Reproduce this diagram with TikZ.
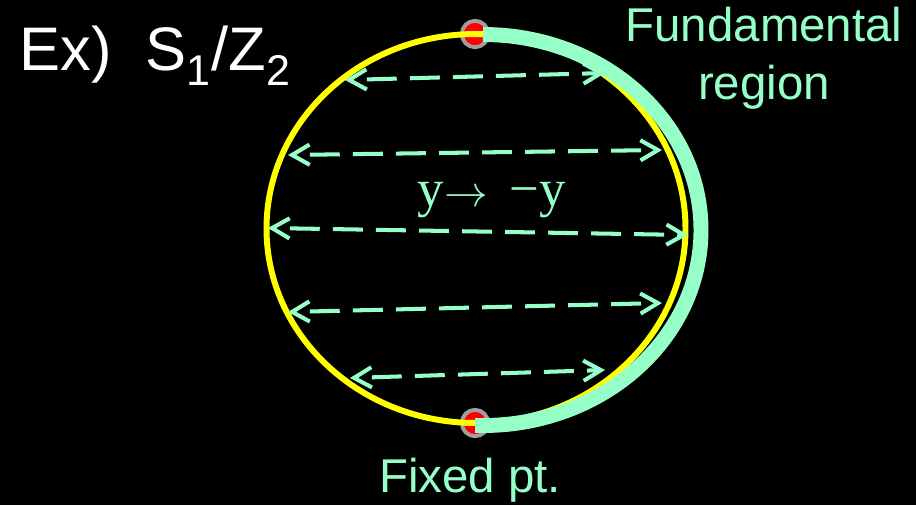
\documentclass[tikz,border=0pt]{standalone}
\usepackage{fontspec}
\setmainfont{Liberation Sans}
\newfontfamily\serifface{Liberation Serif}
\usepackage{tikz}
\usetikzlibrary{arrows.meta, positioning}
\definecolor{myaqua}{HTML}{96FFC8}
\definecolor{myyellow}{HTML}{FFFF00}
\tikzset{
	circlepath/.style={
			draw=myyellow,
			line width=3.4pt
		},
	regionpath/.style={
			draw=myaqua,
			line width=8.5pt
		},
	fixednode/.style={
			circle,
			draw=gray!75,
			fill=red,
			line width=2.2pt,
			minimum size=15pt,
			inner sep=0pt
		},
	mapline/.style={
			draw=myaqua,
			line width=2.3pt,
			dash pattern=on 17pt off 7.5pt,
			dash phase=-9pt,
			{Straight Barb[length=10pt,width=11.5pt,line width=2.3pt]}-{Straight Barb[length=10pt,width=11.5pt,line width=2.3pt]}
		},
	labelnode/.style={
			text=myaqua,
			font=\fontsize{27}{30}\selectfont,
			inner sep=0pt
		}
}

\begin{document}
\begin{tikzpicture}[x=0.02cm, y=-0.02cm]
\useasboundingbox[fill=black] (0,0) rectangle (916,505);

\node[text=white, font=\fontsize{35}{38}\selectfont, anchor=west, inner sep=0pt] (title) at (19,56) {Ex)\ \ S\textsubscript{1}/Z\textsubscript{2}};

% fixed points, circle and fundamental region
\node[fixednode] (top) at (475,34) {};
\node[fixednode] (bot) at (475,423) {};
\draw[circlepath] (476,228.5) ellipse [x radius=209.5, y radius=194.5];
\draw[regionpath] (483,34.5) arc [start angle=-90, end angle=90, x radius=218, y radius=195.5] -- (475,425.5);

% the map
\coordinate (l1) at (345,80);  \coordinate (r1) at (605,73);
\coordinate (l2) at (288,155); \coordinate (r2) at (662,150);
\coordinate (l3) at (268,228); \coordinate (r3) at (688,235);
\coordinate (l4) at (288,312); \coordinate (r4) at (662,303);
\coordinate (l5) at (350,378); \coordinate (r5) at (605,370);
\foreach \i in {1,...,5}
	\draw[mapline] (l\i) -- (r\i);

\node[labelnode, font=\serifface\fontsize{30}{32}\selectfont] (map) at (492,200) {y{\fontsize{28}{30}\selectfont$\rightarrow$}\ \,−y};
\node[labelnode, align=center, font=\fontsize{27}{33}\selectfont] (fund) at (764,58) {Fundamental\\region};
\node[labelnode] (fixed) at (470,480) {Fixed pt.};
\end{tikzpicture}
\end{document}
